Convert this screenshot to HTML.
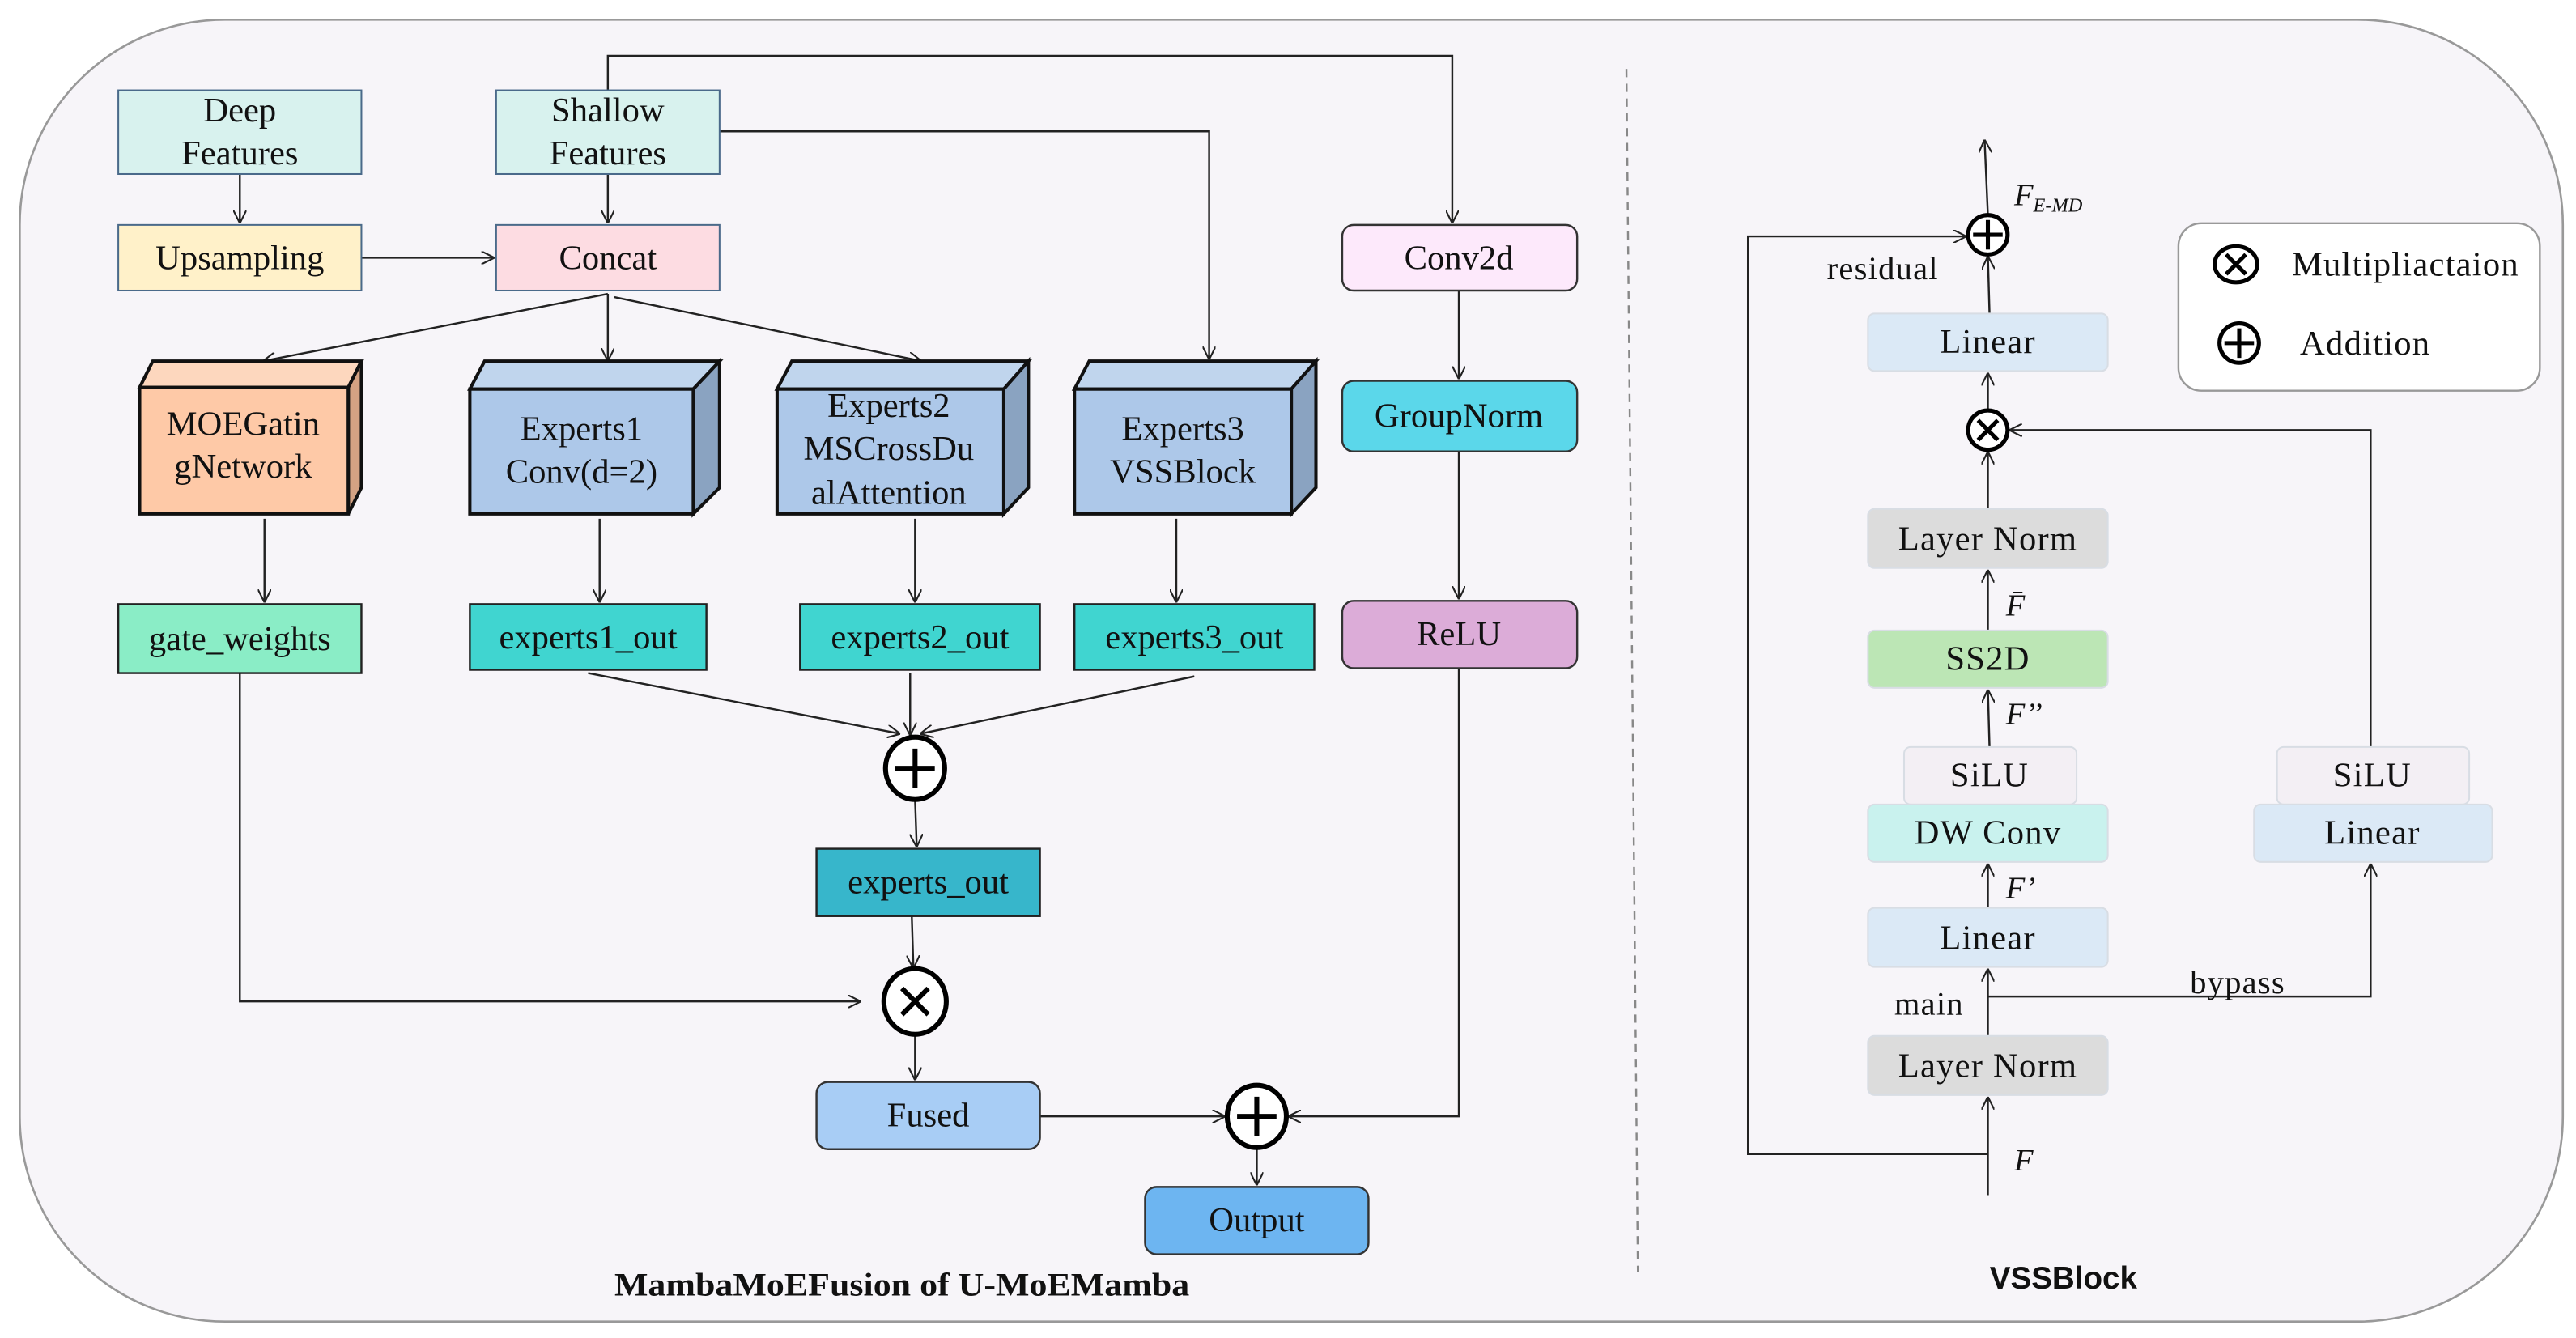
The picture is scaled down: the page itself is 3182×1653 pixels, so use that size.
<!DOCTYPE html>
<html><head><meta charset="utf-8"><style>
html,body{margin:0;padding:0;background:#fff;}
svg{display:block;}
text{font-family:"Liberation Serif",serif;fill:#111;}
</style></head><body>
<svg width="3182" height="1653" viewBox="0 0 1568 815" preserveAspectRatio="none" xmlns="http://www.w3.org/2000/svg">
<defs>
<marker id="a" viewBox="0 0 10 10" refX="10" refY="5" markerWidth="8" markerHeight="8" orient="auto-start-reverse" markerUnits="userSpaceOnUse"><path d="M0,0 L10,5 L0,10" fill="none" stroke="#222" stroke-width="1.3"/></marker>
</defs>
<rect x="0" y="0" width="1568" height="815" fill="#fff"/>
<rect x="12" y="12" width="1548" height="793" rx="125" ry="125" fill="#f7f5f9" stroke="#999" stroke-width="1.3"/>
<line x1="990" y1="42" x2="997" y2="775" stroke="#888" stroke-width="1.2" stroke-dasharray="5,4"/>

<g stroke="#222" stroke-width="1.2" fill="none">
<polyline points="370,55 370,34 884,34 884,136" marker-end="url(#a)"/>
<polyline points="438,80 736,80 736,219" marker-end="url(#a)"/>
<line x1="146" y1="106" x2="146" y2="136" marker-end="url(#a)"/>
<line x1="370" y1="106" x2="370" y2="136" marker-end="url(#a)"/>
<line x1="220" y1="157" x2="301" y2="157" marker-end="url(#a)"/>
<line x1="370" y1="179" x2="160" y2="220" marker-end="url(#a)"/>
<line x1="370" y1="179" x2="370" y2="220" marker-end="url(#a)"/>
<line x1="374" y1="181" x2="561" y2="220" marker-end="url(#a)"/>
<line x1="161" y1="316" x2="161" y2="367" marker-end="url(#a)"/>
<line x1="365" y1="316" x2="365" y2="367" marker-end="url(#a)"/>
<line x1="557" y1="316" x2="557" y2="367" marker-end="url(#a)"/>
<line x1="716" y1="316" x2="716" y2="367" marker-end="url(#a)"/>
<line x1="358" y1="410" x2="548" y2="447" marker-end="url(#a)"/>
<line x1="554" y1="410" x2="554" y2="448" marker-end="url(#a)"/>
<line x1="727" y1="412" x2="560" y2="447" marker-end="url(#a)"/>
<line x1="557" y1="487" x2="558" y2="516" marker-end="url(#a)"/>
<line x1="555" y1="558" x2="556" y2="590" marker-end="url(#a)"/>
<polyline points="146,410 146,610 524,610" marker-end="url(#a)"/>
<line x1="557" y1="630" x2="557" y2="658" marker-end="url(#a)"/>
<line x1="633" y1="680" x2="746" y2="680" marker-end="url(#a)"/>
<polyline points="888,407 888,680 784,680" marker-end="url(#a)"/>
<line x1="765" y1="699" x2="765" y2="722" marker-end="url(#a)"/>
<line x1="888" y1="177" x2="888" y2="231" marker-end="url(#a)"/>
<line x1="888" y1="275" x2="888" y2="365" marker-end="url(#a)"/>
</g>

<g stroke="#4a6a8a" stroke-width="1">
<rect x="72" y="55" width="148" height="51" fill="#d8f2ee"/>
<rect x="302" y="55" width="136" height="51" fill="#d8f2ee"/>
<rect x="72" y="137" width="148" height="40" fill="#fff1c9"/>
<rect x="302" y="137" width="136" height="40" fill="#fddce2"/>
</g>
<g font-size="21" text-anchor="middle">
<text x="146" y="74">Deep</text><text x="146" y="100">Features</text>
<text x="370" y="74">Shallow</text><text x="370" y="100">Features</text>
<text x="146" y="164">Upsampling</text>
<text x="370" y="164">Concat</text>
</g>

<g stroke="#333" stroke-width="1.2">
<rect x="817" y="137" width="143" height="40" rx="7" fill="#fde9fb"/>
<rect x="817" y="232" width="143" height="43" rx="7" fill="#5bd7ea"/>
<rect x="817" y="366" width="143" height="41" rx="7" fill="#dcacd8"/>
<rect x="497" y="659" width="136" height="41" rx="7" fill="#a8cdf5"/>
<rect x="697" y="723" width="136" height="41" rx="7" fill="#6db5f1"/>
</g>
<g font-size="21" text-anchor="middle">
<text x="888" y="164">Conv2d</text>
<text x="888" y="260">GroupNorm</text>
<text x="888" y="393">ReLU</text>
<text x="565" y="686">Fused</text>
<text x="765" y="750">Output</text>
</g>

<g stroke="#111" stroke-width="2" stroke-linejoin="miter">
<polygon points="85,236 93,220 220,220 212,236" fill="#fdd7be"/>
<polygon points="212,236 220,220 220,297 212,313" fill="#d4a283"/>
<rect x="85" y="236" width="127" height="77" fill="#fec9a7"/>

<polygon points="286,237 295,220 438,220 422,237" fill="#c0d5ed"/>
<polygon points="422,237 438,220 438,297 422,313" fill="#8aa3c1"/>
<rect x="286" y="237" width="136" height="76" fill="#adc8e9"/>

<polygon points="473,237 482,220 626,220 611,237" fill="#c0d5ed"/>
<polygon points="611,237 626,220 626,297 611,313" fill="#8aa3c1"/>
<rect x="473" y="237" width="138" height="76" fill="#adc8e9"/>

<polygon points="654,237 663,220 801,220 786,237" fill="#c0d5ed"/>
<polygon points="786,237 801,220 801,297 786,313" fill="#8aa3c1"/>
<rect x="654" y="237" width="132" height="76" fill="#adc8e9"/>
</g>
<g font-size="21" text-anchor="middle">
<text x="148" y="265">MOEGatin</text><text x="148" y="291">gNetwork</text>
<text x="354" y="268">Experts1</text><text x="354" y="294">Conv(d=2)</text>
<text x="541" y="254">Experts2</text><text x="541" y="280">MSCrossDu</text><text x="541" y="307">alAttention</text>
<text x="720" y="268">Experts3</text><text x="720" y="294">VSSBlock</text>
</g>

<g stroke="#222" stroke-width="1.2">
<rect x="72" y="368" width="148" height="42" fill="#8aedc6"/>
<rect x="286" y="368" width="144" height="40" fill="#40d5d0"/>
<rect x="487" y="368" width="146" height="40" fill="#40d5d0"/>
<rect x="654" y="368" width="146" height="40" fill="#40d5d0"/>
<rect x="497" y="517" width="136" height="41" fill="#37b6cb"/>
</g>
<g font-size="21" text-anchor="middle">
<text x="146" y="396">gate_weights</text>
<text x="358" y="395">experts1_out</text>
<text x="560" y="395">experts2_out</text>
<text x="727" y="395">experts3_out</text>
<text x="565" y="544">experts_out</text>
</g>

<g stroke="#000" stroke-width="3" fill="none">
<ellipse cx="557" cy="468" rx="18" ry="19" fill="#fff"/>
<line x1="545" y1="468" x2="569" y2="468"/><line x1="557" y1="456" x2="557" y2="480"/>
<ellipse cx="557" cy="610" rx="19" ry="20" fill="#fff"/>
<line x1="549" y1="602" x2="565" y2="618"/><line x1="565" y1="602" x2="549" y2="618"/>
<ellipse cx="765" cy="680" rx="18" ry="19" fill="#fff"/>
<line x1="753" y1="680" x2="777" y2="680"/><line x1="765" y1="668" x2="765" y2="692"/>
</g>
<text x="374" y="789" font-size="20" font-weight="bold" textLength="350" lengthAdjust="spacingAndGlyphs">MambaMoEFusion of U-MoEMamba</text>

<g stroke="#222" stroke-width="1.2" fill="none">
<line x1="1210" y1="131" x2="1208" y2="85" marker-end="url(#a)"/>
<polyline points="1210,703 1064,703 1064,144 1197,144" marker-end="url(#a)"/>
<line x1="1210" y1="728" x2="1210" y2="668" marker-end="url(#a)"/>
<line x1="1210" y1="631" x2="1210" y2="590" marker-end="url(#a)"/>
<polyline points="1210,607 1443,607 1443,526" marker-end="url(#a)"/>
<line x1="1210" y1="553" x2="1210" y2="526" marker-end="url(#a)"/>
<line x1="1211" y1="455" x2="1210" y2="420" marker-end="url(#a)"/>
<line x1="1210" y1="384" x2="1210" y2="347" marker-end="url(#a)"/>
<line x1="1210" y1="310" x2="1210" y2="275" marker-end="url(#a)"/>
<line x1="1210" y1="250" x2="1210" y2="227" marker-end="url(#a)"/>
<line x1="1211" y1="191" x2="1210" y2="156" marker-end="url(#a)"/>
<polyline points="1443,455 1443,262 1223,262" marker-end="url(#a)"/>
</g>
<g stroke="#d8dde4" stroke-width="1">
<rect x="1137" y="191" width="146" height="35" rx="4" fill="#dbe9f6"/>
<rect x="1137" y="310" width="146" height="36" rx="4" fill="#dcdcdc"/>
<rect x="1137" y="384" width="146" height="35" rx="4" fill="#bce6b5"/>
<rect x="1159" y="455" width="105" height="35" rx="4" fill="#f3eff4"/>
<rect x="1137" y="490" width="146" height="35" rx="4" fill="#c9f2ee"/>
<rect x="1137" y="553" width="146" height="36" rx="4" fill="#dbe9f6"/>
<rect x="1137" y="631" width="146" height="36" rx="4" fill="#dcdcdc"/>
<rect x="1386" y="455" width="117" height="35" rx="4" fill="#f3eff4"/>
<rect x="1372" y="490" width="145" height="35" rx="4" fill="#dbe9f6"/>
</g>
<g font-size="21" text-anchor="middle" letter-spacing="0.6">
<text x="1210" y="215">Linear</text>
<text x="1210" y="335">Layer Norm</text>
<text x="1210" y="408">SS2D</text>
<text x="1211" y="479">SiLU</text>
<text x="1210" y="514">DW Conv</text>
<text x="1210" y="578">Linear</text>
<text x="1210" y="656">Layer Norm</text>
<text x="1444" y="479">SiLU</text>
<text x="1444" y="514">Linear</text>
</g>
<g stroke="#000" stroke-width="2.5" fill="#fff">
<circle cx="1210" cy="143" r="12"/>
<circle cx="1210" cy="262" r="12"/>
</g>
<g stroke="#000" stroke-width="2.5">
<line x1="1201" y1="143" x2="1219" y2="143"/><line x1="1210" y1="134" x2="1210" y2="152"/>
<line x1="1204" y1="256" x2="1216" y2="268"/><line x1="1216" y1="256" x2="1204" y2="268"/>
</g>
<g font-size="20" letter-spacing="0.6">
<text x="1112" y="170">residual</text>
<text x="1153" y="618">main</text>
<text x="1333" y="605">bypass</text>
</g>
<g font-size="19" font-style="italic">
<text x="1226" y="125">F<tspan font-size="12" dy="4">E-MD</tspan></text>
<text x="1226" y="713">F</text>
<text x="1221" y="547">F’</text>
<text x="1221" y="441">F’’</text>
<text x="1221" y="375">F̄</text>
</g>
<rect x="1326" y="136" width="220" height="102" rx="14" fill="#fff" stroke="#999" stroke-width="1.2"/>
<g stroke="#000" stroke-width="2.5" fill="none">
<ellipse cx="1361" cy="161" rx="13" ry="11"/>
<line x1="1355" y1="155" x2="1367" y2="167"/><line x1="1367" y1="155" x2="1355" y2="167"/>
<circle cx="1363" cy="209" r="12"/>
<line x1="1354" y1="209" x2="1372" y2="209"/><line x1="1363" y1="200" x2="1363" y2="218"/>
</g>
<g font-size="21" letter-spacing="0.6">
<text x="1395" y="168">Multipliactaion</text>
<text x="1400" y="216">Addition</text>
</g>
<text x="1256" y="785" font-size="19" font-weight="bold" text-anchor="middle" style="font-family:'Liberation Sans',sans-serif">VSSBlock</text>
</svg>
</body></html>
